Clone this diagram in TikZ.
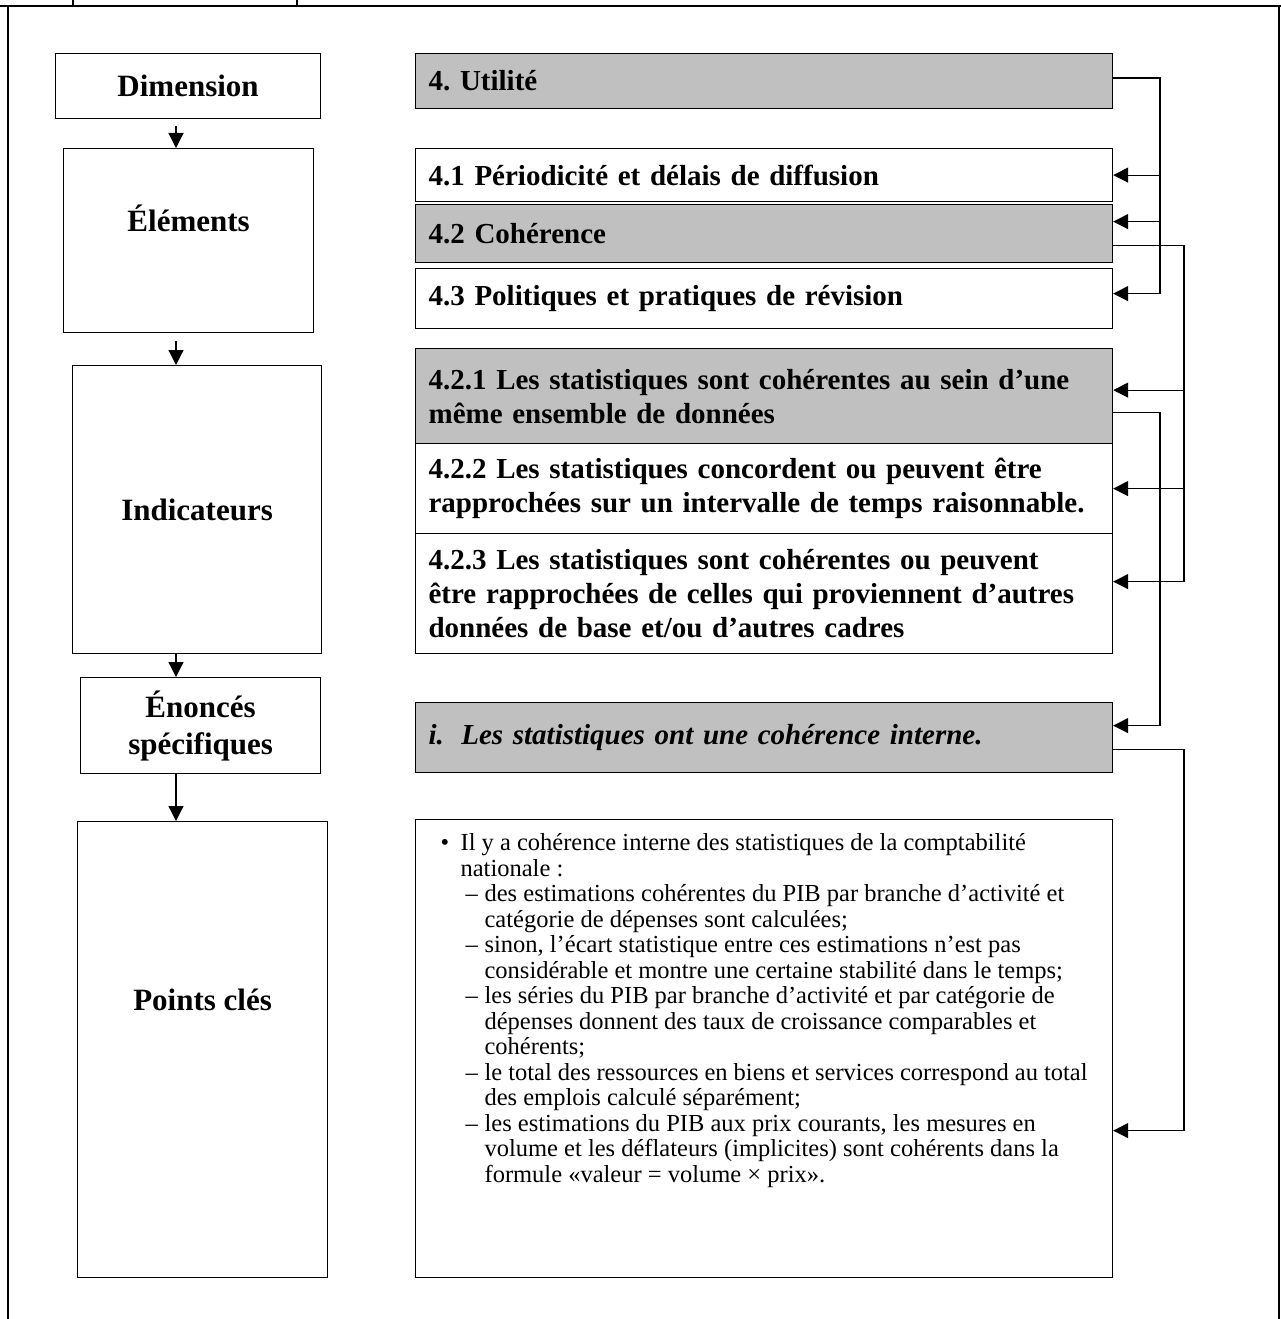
\documentclass[tikz,border=0pt]{standalone}
\usepackage{fontspec}
\setmainfont{Liberation Serif}
\usetikzlibrary{arrows.meta}

\definecolor{boxgrey}{RGB}{192,192,192}

% one bullet line and one dash line of the key points
\newcommand{\ptbullet}[1]{\par\noindent\hangindent=20pt\hangafter=1\makebox[20pt][l]{\textbullet}#1}
\newcommand{\ptdash}[1]{\par\noindent\hangindent=44pt\hangafter=1\hspace*{25pt}\makebox[19pt][l]{--}#1}

\begin{document}
\begin{tikzpicture}[x=1pt,y=-1pt,line width=1.2pt,
    >={Triangle[length=15pt,width=15pt]},
    lbox/.style={draw,anchor=north west,inner sep=0pt,align=center,
        font=\fontsize{31}{37}\selectfont\bfseries},
    rbox/.style={draw,anchor=north west,inner xsep=13pt,inner ysep=0pt,
        text width=671pt,minimum height=#1,align=left,
        font=\fontsize{29}{34}\selectfont\bfseries},
    grey/.style={fill=boxgrey}]

        \useasboundingbox (0,0) rectangle (1281,1319);

        % frame
        \draw (0,6) -- (1281,6);
        \draw (8,6) -- (8,1319);
        \draw (1279,6) -- (1279,1319);
        \draw (73,0) -- (73,6);
        \draw (297,0) -- (297,6);

        % left column
        \node[lbox,minimum width=265pt,minimum height=65pt] (dim) at (55,53) {Dimension};
        \node[lbox,minimum width=250pt,text height=83pt,text depth=101pt] (elem) at (63,148) {Éléments};
        \node[lbox,minimum width=249pt,minimum height=288pt] (ind) at (72,365) {Indicateurs};
        \node[lbox,minimum width=240pt,minimum height=96pt] (enon) at (80,677) {Énoncés\\spécifiques};
        \node[lbox,minimum width=250pt,text height=189pt,text depth=267pt] (pts) at (77,821) {Points clés};

        \coordinate (ax) at (176,0);
        \foreach \a/\b/\g in {dim/elem/7,elem/ind/8,ind/enon/0,enon/pts/0}{
            \draw[->,shorten <=\g pt] (\a.south -| ax) -- (\b.north -| ax);
        }

        % right column
        \node[rbox=55pt,grey] (util) at (415,53) {4.\ Utilité};
        \node[rbox=53pt] (e41) at (415,148) {4.1 Périodicité et délais de diffusion};
        \node[rbox=58pt,grey] (e42) at (415,204) {4.2 Cohérence};
        \node[rbox=60pt] (e43) at (415,268) {4.3 Politiques et pratiques de révision};

        \node[rbox=95pt,grey] (i421) at (415,348) {4.2.1 Les statistiques sont cohérentes au sein d’une\\même ensemble de données};
        \node[rbox=90pt] (i422) at (415,443) {4.2.2 Les statistiques concordent ou peuvent être\\rapprochées sur un intervalle de temps raisonnable.};
        \node[rbox=120pt] (i423) at (415,533) {4.2.3 Les statistiques sont cohérentes ou peuvent\\être rapprochées de celles qui proviennent d’autres\\données de base et/ou d’autres cadres};

        \node[rbox=70pt,grey,font=\fontsize{29}{34}\selectfont\bfseries\itshape] (stmt) at (415,702) {i.\hspace{0.6em}Les statistiques ont une cohérence interne.};

        \node[draw,anchor=north west,inner xsep=25pt,inner ysep=0pt,
            font=\fontsize{24.5}{25.5}\selectfont] (ptsbox) at (415,819)
            {\parbox[c][458pt][t]{647pt}{\raggedright\let\\\newline\vspace*{14pt}
            \ptbullet{Il y a cohérence interne des statistiques de la comptabilité\\nationale :}
            \ptdash{des estimations cohérentes du PIB par branche d’activité et\\catégorie de dépenses sont calculées;}
            \ptdash{sinon, l’écart statistique entre ces estimations n’est pas\\considérable et montre une certaine stabilité dans le temps;}
            \ptdash{les séries du PIB par branche d’activité et par catégorie de\\dépenses donnent des taux de croissance comparables et\\cohérents;}
            \ptdash{le total des ressources en biens et services correspond au total\\des emplois calculé séparément;}
            \ptdash{les estimations du PIB aux prix courants, les mesures en\\volume et les déflateurs (implicites) sont cohérents dans la\\formule «valeur = volume × prix».}\par}};

        % connectors
        \coordinate (bx) at (1160,0);
        \coordinate (cx) at (1184,0);

        % Draw dimension -> elements
        \draw[->] ([yshift=3pt]util.east) -- ([yshift=3pt]util.east -| bx) |- ([yshift=5pt]e43.east);
        \draw[->] (e41.east -| bx) -- (e41.east);
        \draw[->] ([yshift=12pt]e42.east -| bx) -- ([yshift=12pt]e42.east);

        % Draw element -> indicators
        \draw[->] ([yshift=-12pt]e42.east) -- ([yshift=-12pt]e42.east -| cx) |- ([yshift=12pt]i423.east);
        \draw[->] ([yshift=6pt]i421.east -| cx) -- ([yshift=6pt]i421.east);
        \draw[->] (i422.east -| cx) -- (i422.east);

        % Draw indicator -> statement -> key points
        \draw[->] ([yshift=-16pt]i421.east) -- ([yshift=-16pt]i421.east -| bx) |- ([yshift=12pt]stmt.east);
        \draw[->] ([yshift=-12pt]stmt.east) -- ([yshift=-12pt]stmt.east -| cx) |- ([yshift=-82pt]ptsbox.east);

\end{tikzpicture}
\end{document}
